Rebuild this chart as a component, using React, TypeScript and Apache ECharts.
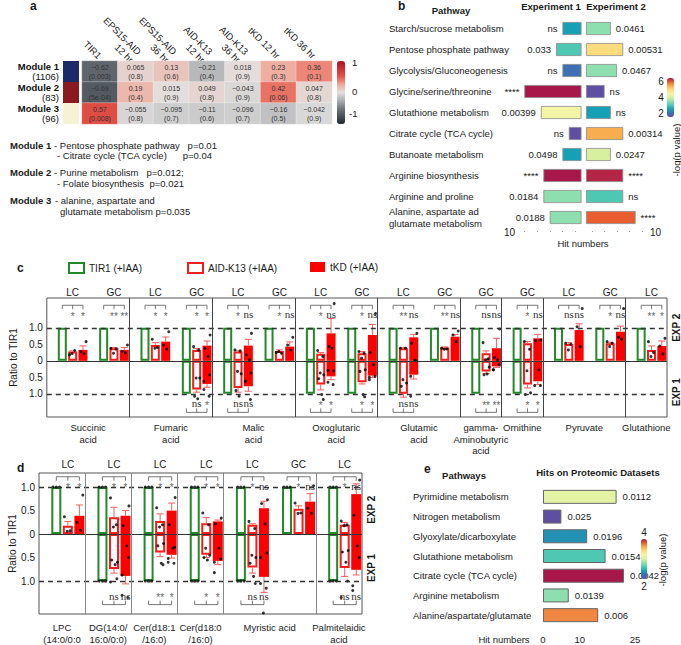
import React, { useEffect, useRef } from "react";
import * as echarts from "echarts";

const FONT = '"Liberation Sans", Arial, Helvetica, sans-serif';
const SERIF = '"Liberation Serif", "Times New Roman", serif';
const INK = "#1a1a1a";

// ---------------- Panel a : module correlation heatmap ----------------
const heatColumns = ["TIR1", "EPS15-AID\n12 hr", "EPS15-AID\n36 hr", "AID-K13\n12 hr", "AID-K13\n36 hr", "tKD 12 hr", "tKD 36 hr"];
const moduleNames = ["Module 1", "Module 2", "Module 3"];
const moduleSizes = ["(1106)", "(83)", "(96)"];
const moduleColors = ["#1c2a6a", "#8a1a20", "#f8f2d4"];
const corrModule1 = [-0.62, 0.065, 0.13, -0.21, 0.018, 0.23, 0.36];
const corrModule2 = [-0.69, 0.19, 0.015, 0.049, -0.043, 0.42, 0.047];
const corrModule3 = [0.57, -0.055, -0.095, -0.11, -0.096, -0.16, -0.042];
const pModule1 = ["0.003", "0.8", "0.6", "0.4", "0.9", "0.3", "0.1"];
const pModule2 = ["5e-04", "0.4", "0.9", "0.8", "0.9", "0.06", "0.8"];
const pModule3 = ["0.008", "0.8", "0.7", "0.6", "0.7", "0.5", "0.9"];
const heatColorTicks = ["1", "0", "-1"];
const heatPalette = ["#23282f", "#4a5058", "#747980", "#aeb0b3", "#e2e0df", "#efaa9c", "#e5584a", "#d02d30", "#a8142a"];

// ---------------- Panel b : pathway hits ----------------
const bPathways = [
  "Starch/sucrose metabolism", "Pentose phosphate pathway", "Glycolysis/Gluconeogenesis",
  "Glycine/serine/threonine", "Glutathione metabolism", "Citrate cycle (TCA cycle)",
  "Butanoate metabolism", "Arginine biosynthesis", "Arginine and proline",
  "Alanine, aspartate ad\nglutamate metabolism",
];
const bHitsExp1 = [3, 4, 3, 9, 6.4, 2, 3, 6, 6, 5];
const bHitsExp2 = [4, 6, 5, 3, 4, 6, 4, 6, 6, 8];
const bScoreExp1 = [2.5, 3, 2, 6.5, 4.5, 1.5, 2.5, 6.5, 3.5, 3.5];
const bScoreExp2 = [3.5, 5, 3.5, 1.5, 2.5, 5.5, 4, 6.4, 3, 6];
const bLabelExp1 = ["ns", "0.033", "ns", "****", "0.00399", "ns", "0.0498", "****", "0.0184", "0.0188"];
const bLabelExp2 = ["0.0461", "0.00531", "0.0467", "ns", "ns", "0.00314", "0.0247", "****", "ns", "****"];
const bColorTicks = [6, 4, 2];
const spectral = ["#5e4fa2", "#3f6fb3", "#17a0b5", "#4ec8b2", "#8ddfb0", "#d6f0a0", "#f2f5a6", "#fddc7e", "#f8ad4f", "#e85e30", "#a8174a"];

// ---------------- Panel e : proteomic hits ----------------
const ePathways = [
  "Pyrimidine metabolism", "Nitrogen metabolism", "Glyoxylate/dicarboxylate", "Glutathione metabolism",
  "Citrate cycle (TCA cycle)", "Arginine metabolism", "Alanine/aspartate/glutamate",
];
const eHits = [20, 5, 12, 17, 22, 7, 15];
const eScore = [3.1, 2.0, 2.34, 2.6, 4.0, 2.8, 3.7];
const eLabels = ["0.0112", "0.025", "0.0196", "0.0154", "0.0042", "0.0139", "0.006"];
const eTickLabels = [0, 10, 25];

// ---------------- Panels c / d : ratio to TIR1 ----------------
const ratioTicks = [-1, -0.5, 0, 0.5, 1];

const cGroupNames = ["Succinic\nacid", "Fumaric\nacid", "Malic\nacid", "Oxoglutaric\nacid", "Glutamic\nacid", "gamma-\nAminobutyric\nacid", "Ornithine", "Pyruvate", "Glutathione"];
const cGroupSizes = [2, 2, 2, 2, 2, 1, 1, 2, 1];
const cMethods = ["LC", "GC", "LC", "GC", "LC", "GC", "LC", "GC", "LC", "GC", "GC", "GC", "LC", "GC", "LC"];
const cTirExp2 = [1, 1, 1, 1, 1, 1, 1, 1, 1, 1, 1, 1, 1, 1, 1];
const cTirExp1 = [null, null, null, -1, -1, null, -1, -1, -1, null, -1, -1, null, null, null];
const cAidExp2 = [0.28, 0.38, 0.48, 0.33, 0.28, 0.30, 0.21, 0.23, 0.38, 0.40, 0.23, 0.53, 0.51, 0.53, 0.33];
const cAidExp1 = [null, null, null, -0.87, -0.82, null, -0.72, -0.65, -1.0, null, -0.32, -0.72, null, null, null];
const cTkdExp2 = [0.33, 0.33, 0.58, 0.46, 0.46, 0.43, 0.83, 0.78, 0.71, 0.73, 0.38, 0.68, 0.93, 0.88, 0.45];
const cTkdExp1 = [null, null, null, -0.70, -0.77, null, -0.47, -0.45, -0.42, null, -0.17, -0.62, null, null, null];
const cAidErr2 = [0.30, 0.40, 0.55, 0.37, 0.30, 0.33, 0.25, 0.28, 0.40, 0.42, 0.30, 0.58, 0.55, 0.56, 0.45];
const cAidErr1 = [null, null, null, -0.95, -0.95, null, -0.88, -0.70, -1.10, null, -0.38, -0.82, null, null, null];
const cTkdErr2 = [0.45, 0.40, 0.72, 0.60, 0.65, 0.57, 1.28, 1.10, 0.80, 0.80, 0.68, 0.80, 1.12, 1.05, 0.60];
const cTkdErr1 = [null, null, null, -0.80, -0.92, null, -0.57, -0.50, -0.55, null, -0.20, -0.72, null, null, null];
const cAidDots = [
  [0.18, 0.31, 0.22], [0.38, 0.36, 0.23], [0.65, 0.40, 0.38],
  [0.43, 0.33, -0.52, -0.52, -1.07, -1.15], [0.33, 0.30, -0.32, -0.39, -0.90, -1.07], [0.25, 0.23, 0.28],
  [0.31, 0.13, -0.37, -0.42, -0.54, -1.02, -1.17], [0.28, 0.23, 0.08, -0.27, -0.32, -1.02, -1.09],
  [0.38, 0.38, -0.57, -0.67, -0.77], [0.38, 0.36, 0.35], [0.55, 0.06, 0.03, -0.19, -0.42, -0.40],
  [0.58, 0.35, -0.30, -0.97, -1.02], [0.53, 0.50, 0.33], [0.58, 0.53, 0.43], [0.58, 0.25, 0.13],
];
const cTkdDots = [
  [0.58, 0.28, 0.22], [0.48, 0.28, 0.24], [0.88, 0.48, 0.35],
  [0.78, 0.38, 0.13, -0.42, -0.62, -0.87, -1.07], [0.83, 0.18, 0.03, -0.37, -0.62, -0.62, -1.17], [0.71, 0.48, 0.33],
  [1.73, 0.43, 0.38, -0.30, -0.29, -0.65, -0.72], [1.43, 0.25, -0.12, -0.47, -0.57, -0.50],
  [0.83, 0.53, 0.02, 0.0, -0.47, -1.07], [0.90, 0.78, 0.58], [0.96, 0.10, 0.03, -0.12, -0.27, -0.27],
  [0.63, 0.61, -0.27, -0.75, -0.75], [1.58, 1.03, 0.43], [1.58, 0.71, 0.65], [0.68, 0.45, 0.21],
];
const cSigTop = [["*", "*"], ["**", "**"], ["*", "*"], ["*", "*"], ["*", "ns"], ["*", "ns"], ["*", "ns"], ["*", "ns"], ["**", "ns"], ["**", "ns"], ["ns", "ns"], ["*", "ns"], ["ns", "ns"], ["*", "ns"], ["**", "*"]];
const cSigBottom = [null, null, null, ["ns", "*"], ["ns", "ns"], null, ["*", "*"], ["*", "*"], ["ns", "ns"], null, ["**", "**"], ["*", "*"], null, null, null];

const dGroupNames = ["LPC\n(14:0/0:0", "DG(14:0/\n16:0/0:0)", "Cer(d18:1\n/16:0)", "Cer(d18:0\n/16:0)", "Myristic acid", "Palmitelaidic\nacid"];
const dGroupSizes = [1, 1, 1, 1, 2, 1];
const dMethods = ["LC", "LC", "LC", "LC", "LC", "GC", "LC"];
const dTirExp2 = [1, 1, 1, 1, 1, 1, 1];
const dTirExp1 = [null, -1, -1, -1, -1, null, -1];
const dAidExp2 = [0.18, 0.36, 0.28, 0.23, 0.20, 0.54, 0.20];
const dAidExp1 = [null, -0.74, -0.39, -0.44, -0.71, null, -0.72];
const dTkdExp2 = [0.39, 0.39, 0.50, 0.27, 0.55, 0.69, 0.85];
const dTkdExp1 = [null, -0.89, -0.44, -0.57, -0.91, null, -0.76];
const dAidErr2 = [0.27, 0.57, 0.43, 0.35, 0.22, 0.60, 0.25];
const dAidErr1 = [null, -0.83, -0.48, -0.50, -0.83, null, -0.90];
const dTkdErr2 = [0.62, 0.50, 0.66, 0.30, 0.70, 0.86, 1.07];
const dTkdErr1 = [null, -1.06, -0.51, -0.65, -1.24, null, -0.87];
const dAidDots = [
  [0.37, 0.07, 0.06], [0.77, 0.20, 0.15, -0.60, -0.55, -0.65, -0.95, -1.02],
  [0.56, 0.20, 0.15, -0.20, -0.25, -0.62, -0.65], [0.45, 0.20, -0.30, -0.45, -0.50, -0.55],
  [0.27, 0.12, -0.45, -0.50, -0.62, -0.90, -1.05], [0.66, 0.45, 0.44],
  [0.28, 0.20, 0.18, -0.35, -0.38, -0.60, -1.00, -1.35],
];
const dTkdDots = [
  [0.83, 0.25, 0.08], [0.60, 0.18, -0.25, -0.50, -0.87, -1.30, -1.35],
  [0.78, 0.20, -0.30, -0.28, -0.52, -0.60, -0.62], [0.34, 0.22, -0.30, -0.53, -0.60, -0.82],
  [0.73, 0.65, 0.22, -0.40, -0.50, -1.05, -1.15, -1.68], [1.03, 0.55, 0.44],
  [1.15, 0.40, -0.25, -0.50, -1.10, -1.20],
];
const dSigTop = [["*", "*"], ["*", "*"], ["*", "*"], ["*", "*"], ["*", "ns"], ["*", "ns"], ["*", "ns"]];
const dSigBottom = [null, ["ns", "ns"], ["**", "*"], ["*", "*"], ["ns", "ns"], null, ["ns", "ns"]];

const SLOT = 4; // per sub-panel: gap, TIR1, AID-K13, tKD
const JIT = [-0.3, 0.2, -0.05, 0.3, -0.2, 0.1, 0.25, -0.3];

function fmtCorr(v: number) {
  return (v < 0 ? "\u2212" : "") + String(Math.abs(v));
}

function buildOption() {
  const grid: any[] = [];
  const xAxis: any[] = [];
  const yAxis: any[] = [];
  const series: any[] = [];
  const visualMap: any[] = [];
  const graphic: any[] = [];

  const txt = (x: number, y: number, text: string, o: any = {}) =>
    graphic.push({
      type: "text", x, y, rotation: o.rotation || 0, silent: true,
      style: {
        text, fontSize: o.size || 9.5, fontWeight: o.bold ? "bold" : "normal", fontFamily: o.family || FONT,
        fill: o.color || INK, align: o.align || "left", verticalAlign: "middle",
      },
    });

  // ---------- a ----------
  grid.push({ left: 63, top: 61, width: 16, height: 63 });
  xAxis.push({ gridIndex: 0, type: "value", min: 0, max: 1, show: false });
  yAxis.push({
    gridIndex: 0, type: "category", inverse: true, data: moduleNames,
    axisLine: { show: false }, axisTick: { show: false },
    axisLabel: {
      interval: 0, margin: 4, align: "right",
      formatter: (v: string, i: number) => `{m|${v}}\n{n|${moduleSizes[i]}}`,
      rich: {
        m: { fontWeight: "bold", fontSize: 9.5, fontFamily: FONT, color: "#111", align: "right", lineHeight: 10 },
        n: { fontSize: 9.5, fontFamily: FONT, color: "#111", align: "right", lineHeight: 10 },
      },
    },
  });
  series.push({
    type: "bar", xAxisIndex: 0, yAxisIndex: 0, barWidth: "100%", silent: true,
    data: moduleNames.map((_, i) => ({ value: 1, itemStyle: { color: moduleColors[i] } })),
  });

  grid.push({ left: 82, top: 61, width: 250, height: 63 });
  xAxis.push({
    gridIndex: 1, type: "category", data: heatColumns, position: "top",
    axisLine: { show: false }, axisTick: { show: false }, splitLine: { show: false },
    axisLabel: { interval: 0, rotate: 45, margin: 4, fontSize: 9.5, color: INK, lineHeight: 11 },
  });
  yAxis.push({ gridIndex: 1, type: "category", data: moduleNames, inverse: true, show: false });
  const heatData: number[][] = [];
  [corrModule1, corrModule2, corrModule3].forEach((row, r) => row.forEach((v, c) => heatData.push([c, r, v])));
  const pRows = [pModule1, pModule2, pModule3];
  const heatIdx = series.length;
  series.push({
    type: "heatmap", xAxisIndex: 1, yAxisIndex: 1, data: heatData, silent: true,
    itemStyle: { borderColor: "rgba(255,255,255,0.6)", borderWidth: 0.5 },
    label: {
      show: true, fontSize: 7, lineHeight: 9, color: "#333",
      formatter: (p: any) => `${fmtCorr(p.value[2])}\n(${pRows[p.value[1]][p.value[0]]})`,
    },
  });
  visualMap.push({
    type: "continuous", seriesIndex: heatIdx, dimension: 2, min: -1, max: 1,
    left: 337, top: 61, itemWidth: 8, itemHeight: 63, padding: 0, calculable: false, hoverLink: false,
    inRange: { color: heatPalette },
  });
  txt(352, 62, heatColorTicks[0]);
  txt(352, 91, heatColorTicks[1]);
  txt(349, 113, heatColorTicks[2]);

  txt(30, 6, "a", { bold: true, size: 12 });
  txt(10, 145, "Module 1", { bold: true });
  txt(54, 145, "- Pentose phosphate pathway   p=0.01");
  txt(57, 155.5, "- Citrate cycle (TCA cycle)      p=0.04");
  txt(10, 172, "Module 2", { bold: true });
  txt(54, 172, "- Purine metabolism   p=0.012;");
  txt(57, 183, "- Folate biosynthesis  p=0.021");
  txt(10, 200, "Module 3", { bold: true });
  txt(55, 200, "- alanine, aspartate and");
  txt(60, 211, "glutamate metabolism p=0.035");

  // ---------- b ----------
  const bAxisX = (gi: number, inverse: boolean) => ({
    gridIndex: gi, type: "value", min: 0, max: 10, inverse, offset: 4,
    axisLine: { lineStyle: { color: "#777", width: 0.8 } },
    axisTick: { inside: true, length: 2, lineStyle: { color: "#888" } },
    minorTick: { show: true, splitNumber: 2, length: 1, lineStyle: { color: "#999" } },
    axisLabel: { show: false }, splitLine: { show: false },
    name: "10", nameLocation: "end", nameGap: inverse ? 3 : 2,
    nameTextStyle: { fontSize: 10, color: INK, fontFamily: FONT },
  });
  grid.push({ left: 518, top: 18, width: 63.5, height: 210 });
  grid.push({ left: 586, top: 18, width: 62, height: 210 });
  xAxis.push(bAxisX(2, true));
  xAxis.push(bAxisX(3, false));
  yAxis.push({
    gridIndex: 2, type: "category", inverse: true, data: bPathways,
    axisLine: { show: false }, axisTick: { show: false },
    axisLabel: { interval: 0, margin: 129, align: "left", fontSize: 9.5, color: INK, lineHeight: 12 },
  });
  yAxis.push({ gridIndex: 3, type: "category", inverse: true, data: bPathways, show: false });
  const bBar = (xi: number, hits: number[], score: number[], labels: string[], side: string) => ({
    type: "bar", xAxisIndex: xi, yAxisIndex: xi, barWidth: 13, silent: true,
    encode: { x: 0, y: 1 },
    data: hits.map((h, i) => [h, i, score[i]]),
    itemStyle: { borderColor: "#8a8a8a", borderWidth: 0.8 },
    label: {
      show: true, position: side, distance: 5, fontSize: 9.5, color: INK,
      formatter: (p: any) => labels[p.dataIndex],
    },
  });
  const b1 = series.length;
  series.push(bBar(2, bHitsExp1, bScoreExp1, bLabelExp1, "left"));
  const b2 = series.length;
  series.push(bBar(3, bHitsExp2, bScoreExp2, bLabelExp2, "right"));
  visualMap.push({
    type: "continuous", seriesIndex: [b1, b2], dimension: 2, min: 1.5, max: 6.5,
    left: 667, top: 78, itemWidth: 7, itemHeight: 39, padding: 0, calculable: false, hoverLink: false,
    inRange: { color: spectral },
  });
  bColorTicks.forEach((v) => txt(661, 78 + ((6.5 - v) / 5) * 39, String(v), { align: "center", size: 10 }));
  txt(676, 150, "-log(p value)", { rotation: Math.PI / 2, align: "center" });
  txt(398, 6, "b", { bold: true, size: 12 });
  txt(451, 10, "Pathway", { bold: true, align: "center" });
  txt(551, 6, "Experiment 1", { bold: true, align: "center" });
  txt(616, 6, "Experiment 2", { bold: true, align: "center" });
  txt(583, 243, "Hit numbers", { align: "center" });

  // ---------- e ----------
  grid.push({ left: 543, top: 487, width: 92, height: 138 });
  const eTicks: number[] = [];
  for (let t = 0; t <= 25; t += 2.5) eTicks.push(t);
  xAxis.push({
    gridIndex: 4, type: "value", min: 0, max: 25, offset: 7,
    axisLine: { lineStyle: { color: "#777", width: 0.8 } },
    axisTick: { inside: true, length: 3, customValues: eTicks, lineStyle: { color: "#888" } },
    axisLabel: { customValues: eTickLabels, fontSize: 9.5, color: INK, margin: 2 },
    splitLine: { show: false },
  });
  yAxis.push({
    gridIndex: 4, type: "category", inverse: true, data: ePathways,
    axisLine: { show: false }, axisTick: { show: false },
    axisLabel: { interval: 0, margin: 130, align: "left", fontSize: 9.5, color: INK },
  });
  const eIdx = series.length;
  series.push({
    type: "bar", xAxisIndex: 4, yAxisIndex: 4, barWidth: 14, silent: true, encode: { x: 0, y: 1 },
    data: eHits.map((h, i) => [h, i, eScore[i]]),
    itemStyle: { borderColor: "#666", borderWidth: 1 },
    label: { show: true, position: "right", distance: 6, fontSize: 9.5, color: INK, formatter: (p: any) => eLabels[p.dataIndex] },
  });
  visualMap.push({
    type: "continuous", seriesIndex: eIdx, dimension: 2, min: 2, max: 4,
    left: 641, top: 527, itemWidth: 6, itemHeight: 40, padding: 0, calculable: false, hoverLink: false,
    text: ["4", "2"], textGap: 2, textStyle: { fontSize: 10, color: INK, fontFamily: FONT },
    inRange: { color: spectral },
  });
  txt(662, 560, "-log(p value)", { rotation: Math.PI / 2, align: "center" });
  txt(424, 469, "e", { bold: true, size: 12 });
  txt(464, 475, "Pathways", { bold: true, align: "center" });
  txt(598, 472, "Hits on Proteomic Datasets", { bold: true, align: "center" });
  txt(504, 639, "Hit numbers", { align: "center" });

  // ---------- c / d ----------
  const tirStyle = { color: "rgba(255,255,255,0)", borderColor: "#23892b", borderWidth: 2 };
  const aidStyle = { color: "#ffffff", borderColor: "#f21d1d", borderWidth: 2 };
  const tkdStyle = { color: "#ff0000", borderColor: "#ff0000", borderWidth: 0 };
  const pos = (s: number, slot: number) => s * SLOT + slot + 0.5;

  const errRender = (color: string) => (params: any, api: any) => {
    const x = api.value(0);
    const p0 = api.coord([x, api.value(1)]);
    const p1 = api.coord([x, api.value(2)]);
    const st = { stroke: color, lineWidth: 1 };
    return {
      type: "group",
      children: [
        { type: "line", shape: { x1: p0[0], y1: p0[1], x2: p1[0], y2: p1[1] }, style: st },
        { type: "line", shape: { x1: p1[0] - 3.5, y1: p1[1], x2: p1[0] + 3.5, y2: p1[1] }, style: st },
      ],
    };
  };

  const addBarPanel = (cfg: any) => {
    const P = cfg.P;
    const gi = grid.length;
    grid.push({ ...cfg.box, show: true, borderColor: "#555", borderWidth: 1, backgroundColor: "transparent" });
    const n = P.methods.length;
    const xMax = n * SLOT;
    const centers: number[] = [];
    const dividers: number[] = [];
    let acc = 0;
    P.groupSizes.forEach((g: number) => {
      centers.push((acc + g / 2) * SLOT);
      acc += g;
      if (acc < n) dividers.push(acc * SLOT);
    });
    const findIdx = (arr: number[], v: number) => arr.findIndex((a) => Math.abs(a - v) < 1e-6);
    const methodPos = P.methods.map((_: string, s: number) => pos(s, 2));
    const xb = xAxis.length;
    const yl = yAxis.length;
    xAxis.push({
      gridIndex: gi, type: "value", min: 0, max: xMax, position: "bottom",
      axisLine: { show: false }, axisTick: { show: false }, splitLine: { show: false },
      axisLabel: {
        customValues: centers, formatter: (v: number) => P.groupNames[findIdx(centers, v)] ?? "",
        fontSize: 9.5, color: INK, lineHeight: 11.5, margin: cfg.bottomMargin,
      },
    });
    xAxis.push({
      gridIndex: gi, type: "value", min: 0, max: xMax, position: "top",
      axisLine: { show: false }, axisTick: { show: false }, splitLine: { show: false },
      axisLabel: {
        customValues: methodPos, formatter: (v: number) => P.methods[findIdx(methodPos, v)] ?? "",
        fontSize: 10, color: INK, margin: cfg.topMargin,
      },
    });
    yAxis.push({
      gridIndex: gi, type: "value", min: cfg.yMin, max: cfg.yMax, position: "left",
      axisLine: { show: false }, axisTick: { show: false }, splitLine: { show: false },
      axisLabel: {
        customValues: ratioTicks, fontSize: 10, color: INK, margin: 4,
        formatter: (v: number) => (v === 0 ? "0" : Math.abs(v).toFixed(1)),
      },
      name: "Ratio to TIR1", nameLocation: "middle", nameGap: cfg.nameGap,
      nameTextStyle: { fontSize: 10, color: INK, fontFamily: FONT },
    });
    yAxis.push({
      gridIndex: gi, type: "value", min: cfg.yMin, max: cfg.yMax, position: "right",
      axisLine: { show: false }, axisTick: { show: false }, splitLine: { show: false },
      axisLabel: {
        customValues: cfg.expAt, rotate: 90, fontSize: 10, fontWeight: "bold", color: INK, margin: 4,
        formatter: (v: number) => (v > 0 ? "EXP 2" : "EXP 1"),
      },
    });
    const ax = { xAxisIndex: xb, yAxisIndex: yl };

    const barData = (v2: number[], v1: (number | null)[], slot: number) => {
      const out: number[][] = [];
      v2.forEach((v, s) => {
        out.push([pos(s, slot), v]);
        if (v1[s] != null) out.push([pos(s, slot), v1[s] as number]);
      });
      return out;
    };
    const errData = (v2: number[], e2: number[], v1: (number | null)[], e1: (number | null)[], slot: number) => {
      const out: number[][] = [];
      v2.forEach((v, s) => {
        out.push([pos(s, slot), v, e2[s]]);
        if (v1[s] != null && e1[s] != null) out.push([pos(s, slot), v1[s] as number, e1[s] as number]);
      });
      return out;
    };
    const bw = cfg.barWidth;
    series.push({ type: "bar", name: "TIR1 (+IAA)", ...ax, barWidth: bw, barGap: "-100%", silent: true, z: 2, itemStyle: tirStyle, data: barData(P.tir2, P.tir1, 1) });
    series.push({ type: "bar", name: "AID-K13 (+IAA)", ...ax, barWidth: bw, barGap: "-100%", silent: true, z: 2, itemStyle: aidStyle, data: barData(P.aid2, P.aid1, 2) });
    series.push({ type: "bar", name: "tKD (+IAA)", ...ax, barWidth: bw, barGap: "-100%", silent: true, z: 2, itemStyle: tkdStyle, data: barData(P.tkd2, P.tkd1, 3) });
    series.push({ type: "custom", ...ax, silent: true, z: 3, renderItem: errRender("#f25e5e"), data: errData(P.aid2, P.aidErr2, P.aid1, P.aidErr1, 2) });
    series.push({ type: "custom", ...ax, silent: true, z: 3, renderItem: errRender("#f25e5e"), data: errData(P.tkd2, P.tkdErr2, P.tkd1, P.tkdErr1, 3) });

    const dots: number[][] = [];
    P.aidDots.forEach((arr: number[], s: number) => arr.forEach((v, k) => dots.push([pos(s, 2) + JIT[k % JIT.length], v])));
    P.tkdDots.forEach((arr: number[], s: number) => arr.forEach((v, k) => dots.push([pos(s, 3) + JIT[(k + 3) % JIT.length], v])));
    if (P.tirDots) {
      P.tir2.forEach((v: number, s: number) => {
        [-0.28, 0, 0.28].forEach((j) => {
          dots.push([pos(s, 1) + j, v]);
          if (P.tir1[s] != null) dots.push([pos(s, 1) + j, P.tir1[s]]);
        });
      });
    }
    series.push({ type: "scatter", ...ax, silent: true, z: 4, symbolSize: 3, itemStyle: { color: "#000" }, data: dots });

    const brackets: any[] = [];
    P.sigTop.forEach((lab: string[], s: number) => brackets.push({ s, level: cfg.topLevel, dir: 1, lab }));
    P.sigBottom.forEach((lab: string[] | null, s: number) => {
      if (lab) brackets.push({ s, level: cfg.bottomLevel, dir: -1, lab });
    });
    series.push({
      type: "custom", ...ax, silent: true, z: 5,
      data: brackets.map((b) => [pos(b.s, 2), b.level]),
      renderItem: (params: any, api: any) => {
        const b = brackets[params.dataIndex];
        const y = api.coord([pos(b.s, 2), b.level])[1];
        const xs = [1, 2, 3].map((sl) => api.coord([pos(b.s, sl), b.level])[0]);
        const ls = { stroke: "#555", lineWidth: 0.8 };
        const children: any[] = [
          { type: "line", shape: { x1: xs[0], y1: y, x2: xs[2], y2: y }, style: ls },
          ...xs.map((x) => ({ type: "line", shape: { x1: x, y1: y, x2: x, y2: y + 4 * b.dir }, style: ls })),
        ];
        b.lab.forEach((t: string, k: number) => {
          const isNs = t === "ns";
          children.push({
            type: "text", x: xs[k + 1], y: y + b.dir * 9 + (isNs ? 0 : 2),
            style: {
              text: t, fontSize: isNs ? 11 : 10, fontFamily: isNs ? SERIF : FONT,
              fill: isNs ? "#333" : "#666", align: "center", verticalAlign: "middle",
            },
          });
        });
        return { type: "group", children };
      },
    });

    series.push({
      type: "scatter", ...ax, silent: true, z: 6, symbolSize: 0, data: [[0, 0]],
      markLine: {
        silent: true, symbol: ["none", "none"], label: { show: false },
        data: [
          { yAxis: 0, lineStyle: { type: "solid", color: "#333", width: 1 } },
          { yAxis: 1, lineStyle: { type: [5, 4], color: "#333", width: 1.3 } },
          { yAxis: -1, lineStyle: { type: [5, 4], color: "#333", width: 1.3 } },
          ...dividers.map((x) => ({ xAxis: x, lineStyle: { type: "solid", color: cfg.dividerColor, width: 1 } })),
        ],
      },
    });
  };

  addBarPanel({
    box: { left: 31, top: 298, width: 636, height: 119 },
    yMin: -1.7, yMax: 1.9, barWidth: 9, topLevel: 1.68, bottomLevel: -1.56,
    expAt: [1.0, -0.95], nameGap: 15, bottomMargin: 5, topMargin: 1, dividerColor: "#444",
    P: {
      methods: cMethods, groupNames: cGroupNames, groupSizes: cGroupSizes,
      tir2: cTirExp2, tir1: cTirExp1, aid2: cAidExp2, aid1: cAidExp1, tkd2: cTkdExp2, tkd1: cTkdExp1,
      aidErr2: cAidErr2, aidErr1: cAidErr1, tkdErr2: cTkdErr2, tkdErr1: cTkdErr1,
      aidDots: cAidDots, tkdDots: cTkdDots, tirDots: false, sigTop: cSigTop, sigBottom: cSigBottom,
    },
  });
  addBarPanel({
    box: { left: 39, top: 473, width: 323, height: 141 },
    yMin: -1.7, yMax: 1.3, barWidth: 10, topLevel: 1.22, bottomLevel: -1.5,
    expAt: [0.52, -0.72], nameGap: 22, bottomMargin: 8, topMargin: 4, dividerColor: "#888",
    P: {
      methods: dMethods, groupNames: dGroupNames, groupSizes: dGroupSizes,
      tir2: dTirExp2, tir1: dTirExp1, aid2: dAidExp2, aid1: dAidExp1, tkd2: dTkdExp2, tkd1: dTkdExp1,
      aidErr2: dAidErr2, aidErr1: dAidErr1, tkdErr2: dTkdErr2, tkdErr1: dTkdErr1,
      aidDots: dAidDots, tkdDots: dTkdDots, tirDots: true, sigTop: dSigTop, sigBottom: dSigBottom,
    },
  });
  txt(17, 268, "c", { bold: true, size: 12 });
  txt(17, 468, "d", { bold: true, size: 12 });

  const legendCommon = {
    top: 262, itemWidth: 15, itemHeight: 10, icon: "rect", padding: 0, selectedMode: false,
    textStyle: { fontSize: 10, color: INK, fontFamily: FONT },
  };
  const legend = [
    { ...legendCommon, left: 68, data: ["TIR1 (+IAA)"] },
    { ...legendCommon, left: 187, data: ["AID-K13 (+IAA)"] },
    { ...legendCommon, left: 310, data: ["tKD (+IAA)"] },
  ];

  return {
    animation: false,
    backgroundColor: "#ffffff",
    textStyle: { fontFamily: FONT },
    grid, xAxis, yAxis, series, visualMap, graphic, legend,
  };
}

export default function App() {
  const ref = useRef<HTMLDivElement>(null);
  useEffect(() => {
    const chart = echarts.init(ref.current as HTMLDivElement, null, { renderer: "svg" });
    chart.setOption(buildOption() as any);
    return () => chart.dispose();
  }, []);
  return (
    <div
      ref={ref}
      style={{ position: "absolute", left: 0, top: 0, width: 681, height: 645, background: "#fff" }}
    />
  );
}
